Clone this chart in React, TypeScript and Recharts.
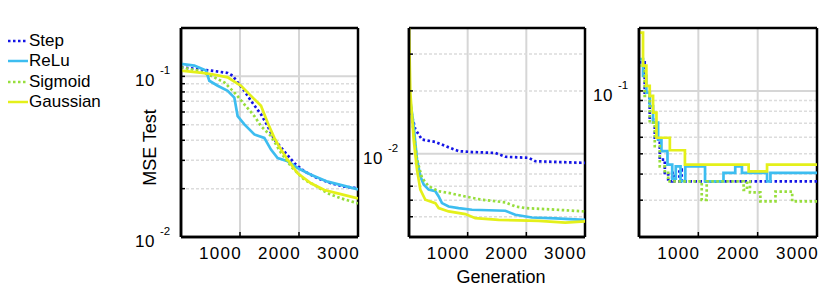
import React from 'react';
import { LineChart, Line, XAxis, YAxis, CartesianGrid, Legend } from 'recharts';

const FONT = '"Liberation Sans", Arial, Helvetica, sans-serif';

type Pt = [number, number];

const seriesNames = ['Step', 'ReLu', 'Sigmoid', 'Gaussian'];
const seriesColors = ['#1414e6', '#3dbdf0', '#97de3c', '#e4f01a'];
const seriesDash: (string | undefined)[] = ['2.5 2.5', undefined, '2.5 2.5', undefined];

const genDomain: [number, number] = [0, 3000];
const genTicks = [1000, 2000, 3000];
const genGrid = [1000, 2000];

// panel 1
const p1Step: Pt[] = [[0, 0.114], [283, 0.111], [509, 0.1086], [791, 0.105], [876, 0.101], [960, 0.0917], [1074, 0.0813], [1187, 0.0703], [1356, 0.058], [1469, 0.049], [1582, 0.0404], [1752, 0.0341], [1921, 0.0288], [2091, 0.0256], [2317, 0.0232], [2543, 0.0216], [2768, 0.0206], [3000, 0.0201]];
const p1Relu: Pt[] = [[0, 0.1195], [226, 0.1167], [424, 0.1086], [480, 0.0939], [622, 0.0874], [791, 0.0813], [904, 0.0738], [960, 0.0566], [1074, 0.0502], [1243, 0.0435], [1412, 0.0414], [1525, 0.035], [1638, 0.031], [1808, 0.0296], [1977, 0.0269], [2203, 0.0244], [2486, 0.0221], [2768, 0.0208], [3000, 0.0198]];
const p1Sig: Pt[] = [[0, 0.114], [283, 0.1086], [509, 0.101], [735, 0.0917], [904, 0.0794], [1074, 0.067], [1243, 0.0566], [1356, 0.049], [1525, 0.0425], [1695, 0.0334], [1865, 0.0275], [2091, 0.0227], [2260, 0.0211], [2486, 0.0187], [2712, 0.0174], [3000, 0.0162]];
const p1Gauss: Pt[] = [[0, 0.1086], [283, 0.106], [509, 0.1034], [791, 0.0986], [1017, 0.0874], [1187, 0.0756], [1356, 0.0655], [1469, 0.0514], [1582, 0.0414], [1695, 0.035], [1808, 0.0303], [1977, 0.0249], [2203, 0.0216], [2430, 0.0196], [2656, 0.0187], [3000, 0.0174]];

// panel 2
const p2Step: Pt[] = [[0, 0.0196], [51, 0.0152], [108, 0.0131], [222, 0.0117], [449, 0.0114], [619, 0.0109], [846, 0.0103], [1074, 0.0102], [1471, 0.0101], [1642, 0.00968], [2039, 0.00957], [2153, 0.00922], [3000, 0.00905]];
const p2Relu: Pt[] = [[0, 0.02], [80, 0.0136], [136, 0.0094], [193, 0.00781], [250, 0.00713], [335, 0.00674], [449, 0.00662], [506, 0.00625], [562, 0.00581], [676, 0.0056], [846, 0.0055], [1074, 0.0054], [1642, 0.00534], [1812, 0.00511], [2096, 0.00496], [2494, 0.00491], [3000, 0.00483]];
const p2Sig: Pt[] = [[0, 0.02], [80, 0.0126], [136, 0.0094], [222, 0.00767], [335, 0.007], [506, 0.00662], [676, 0.0065], [960, 0.00625], [1244, 0.00603], [1642, 0.00586], [1812, 0.0056], [1983, 0.0055], [2324, 0.00544], [3000, 0.0053]];
const p2Gauss: Pt[] = [[0, 0.04], [23, 0.0196], [80, 0.0117], [136, 0.0084], [193, 0.00674], [278, 0.00603], [449, 0.00581], [506, 0.0055], [676, 0.0053], [960, 0.00515], [1130, 0.00492], [1528, 0.00483], [2210, 0.00478], [2664, 0.00469], [3000, 0.00475]];

// panel 3
const p3Step: Pt[] = [[0, 0.137], [96, 0.0982], [181, 0.073], [266, 0.0586], [350, 0.0469], [435, 0.0405], [492, 0.0369], [560, 0.0405], [600, 0.0369], [680, 0.042], [720, 0.0369], [3000, 0.0369]];
const p3Relu: Pt[] = [[0, 0.142], [68, 0.118], [124, 0.098], [181, 0.0847], [237, 0.0705], [322, 0.0586], [378, 0.0515], [480, 0.0444], [560, 0.038], [620, 0.0435], [700, 0.037], [780, 0.0435], [1113, 0.0369], [1424, 0.0405], [1622, 0.0435], [1735, 0.0405], [2158, 0.0369], [2215, 0.0405], [3000, 0.0405]];
const p3Sig: Pt[] = [[0, 0.132], [96, 0.0946], [181, 0.0705], [266, 0.0544], [350, 0.0435], [435, 0.0405], [492, 0.0369], [1057, 0.0301], [1141, 0.0369], [1763, 0.0336], [1820, 0.0369], [1870, 0.0327], [2045, 0.0296], [2300, 0.033], [2582, 0.0296], [3000, 0.0296]];
const p3Gauss: Pt[] = [[0, 0.19], [68, 0.132], [124, 0.1057], [181, 0.0946], [237, 0.0787], [294, 0.0597], [520, 0.052], [774, 0.0444], [1848, 0.0412], [2158, 0.0444], [3000, 0.0444]];

const toRows = (pts: Pt[]) => pts.map(([g, v]) => ({ g, v }));

const isDecade = (v: number) => Math.abs(Math.log10(v) - Math.round(Math.log10(v))) < 1e-6;

// left axis: small inward tick for every grid value, "10^n" label for decades
const LogTick = (props: any) => {
  const { x, y, payload } = props;
  const v = payload.value;
  const e = Math.round(Math.log10(v));
  return (
    <g fontFamily={FONT} fill="#000">
      <line x1={x} x2={x + 4} y1={y} y2={y} stroke="#000" strokeWidth={1.5} />
      {isDecade(v) && (
        <>
          <text x={x - 26} y={y + 10} textAnchor="end" fontSize={17} letterSpacing={0.5}>10</text>
          <text x={x - 21} y={y - 2} textAnchor="start" fontSize={11.5}>{e}</text>
        </>
      )}
    </g>
  );
};

const GenTick = (props: any) => {
  const { x, y, payload } = props;
  return (
    <g>
      <line x1={x} x2={x} y1={y} y2={y - 5} stroke="#000" strokeWidth={1.5} />
      <text x={x + 2} y={y + 22} textAnchor="end" fontSize={17} letterSpacing={1.3} fontFamily={FONT} fill="#000">
        {payload.value}
      </text>
    </g>
  );
};

const LegendBox = () => (
  <div style={{ fontFamily: FONT, fontSize: 17, color: '#000', lineHeight: '20.3px' }}>
    {seriesNames.map((n, i) => (
      <div key={n} style={{ display: 'flex', alignItems: 'center', height: 20.3 }}>
        <svg width={21} height={6} style={{ display: 'block' }}>
          <line x1={0} x2={20} y1={3} y2={3} stroke={seriesColors[i]} strokeWidth={2.5} strokeDasharray={seriesDash[i]} />
        </svg>
        <span>{n}</span>
      </div>
    ))}
  </div>
);

type PanelProps = {
  left: number;
  width: number;
  yWidth: number;
  right: number;
  yDomain: [number, number];
  majorY: number[];
  minorY: number[];
  series: Pt[][];
  curve: 'linear' | 'stepAfter';
  legend?: boolean;
  yLabel?: string;
  xLabel?: string;
};

function Panel(p: PanelProps) {
  const allY = [...p.majorY, ...p.minorY];
  return (
    <div style={{ position: 'absolute', left: p.left, top: 0 }}>
      <LineChart width={p.width} height={292} margin={{ top: 28, right: p.right, bottom: 0, left: 0 }}>
        <CartesianGrid horizontal={false} verticalValues={genGrid} stroke="#d6d6d6" strokeWidth={2} />
        <CartesianGrid vertical={false} horizontalValues={p.majorY} stroke="#d6d6d6" strokeWidth={2} />
        <CartesianGrid vertical={false} horizontalValues={p.minorY} stroke="#dcdcdc" strokeWidth={1.5} strokeDasharray="3 2" />
        {/* axes box */}
        <CartesianGrid horizontalValues={p.yDomain} verticalValues={genDomain} stroke="#000" strokeWidth={2.5} />
        <XAxis
          type="number"
          dataKey="g"
          domain={genDomain}
          ticks={genTicks}
          interval={0}
          allowDataOverflow
          height={55}
          tickSize={0}
          tickMargin={0}
          tick={<GenTick />}
          axisLine={{ stroke: '#000', strokeWidth: 2.5 }}
          label={
            p.xLabel
              ? (lp: any) => {
                  const vb = lp.viewBox;
                  return (
                    <text x={vb.x + vb.width / 2 + 4} y={vb.y + 46} textAnchor="middle" fontSize={18} fontFamily={FONT} fill="#000">
                      {p.xLabel}
                    </text>
                  );
                }
              : undefined
          }
        />
        <YAxis
          scale="log"
          type="number"
          domain={p.yDomain}
          ticks={allY}
          interval={0}
          allowDataOverflow
          width={p.yWidth}
          tickSize={0}
          tickMargin={0}
          tick={<LogTick />}
          axisLine={{ stroke: '#000', strokeWidth: 2.5 }}
          label={
            p.yLabel
              ? (lp: any) => {
                  const vb = lp.viewBox;
                  const cx = vb.x + vb.width - 31;
                  const cy = vb.y + vb.height / 2 + 15;
                  return (
                    <text x={cx} y={cy} transform={`rotate(-90 ${cx} ${cy})`} textAnchor="middle" dominantBaseline="central" fontSize={18} fontFamily={FONT} fill="#000">
                      {p.yLabel}
                    </text>
                  );
                }
              : undefined
          }
        />
        {p.series.map((s, i) => (
          <Line
            key={seriesNames[i]}
            data={toRows(s)}
            dataKey="v"
            name={seriesNames[i]}
            type={p.curve}
            stroke={seriesColors[i]}
            strokeWidth={2.7}
            strokeDasharray={seriesDash[i]}
            dot={false}
            isAnimationActive={false}
          />
        ))}
        {p.legend && (
          <Legend
            layout="horizontal"
            verticalAlign="middle"
            align="center"
            wrapperStyle={{ left: 8, top: 31, width: 'auto', height: 'auto' }}
            content={() => <LegendBox />}
          />
        )}
      </LineChart>
    </div>
  );
}

export default function App() {
  return (
    <div style={{ position: 'absolute', left: 0, top: 0, width: 830, height: 292, background: '#fff' }}>
      <Panel
        left={0}
        width={362}
        yWidth={181}
        right={4}
        yDomain={[0.01, 0.2]}
        majorY={[0.01, 0.1]}
        minorY={[0.02, 0.03, 0.04, 0.05, 0.06, 0.07, 0.08, 0.09]}
        series={[p1Step, p1Relu, p1Sig, p1Gauss]}
        curve="linear"
        legend
        yLabel="MSE Test"
      />
      <Panel
        left={362}
        width={226}
        yWidth={47}
        right={3}
        yDomain={[0.004, 0.04]}
        majorY={[0.01]}
        minorY={[0.005, 0.006, 0.007, 0.008, 0.009, 0.02, 0.03]}
        series={[p2Step, p2Relu, p2Sig, p2Gauss]}
        curve="linear"
        xLabel="Generation"
      />
      <Panel
        left={588}
        width={242}
        yWidth={51}
        right={13}
        yDomain={[0.02, 0.2]}
        majorY={[0.1]}
        minorY={[0.03, 0.04, 0.05, 0.06, 0.07, 0.08, 0.09]}
        series={[p3Step, p3Relu, p3Sig, p3Gauss]}
        curve="stepAfter"
      />
    </div>
  );
}
